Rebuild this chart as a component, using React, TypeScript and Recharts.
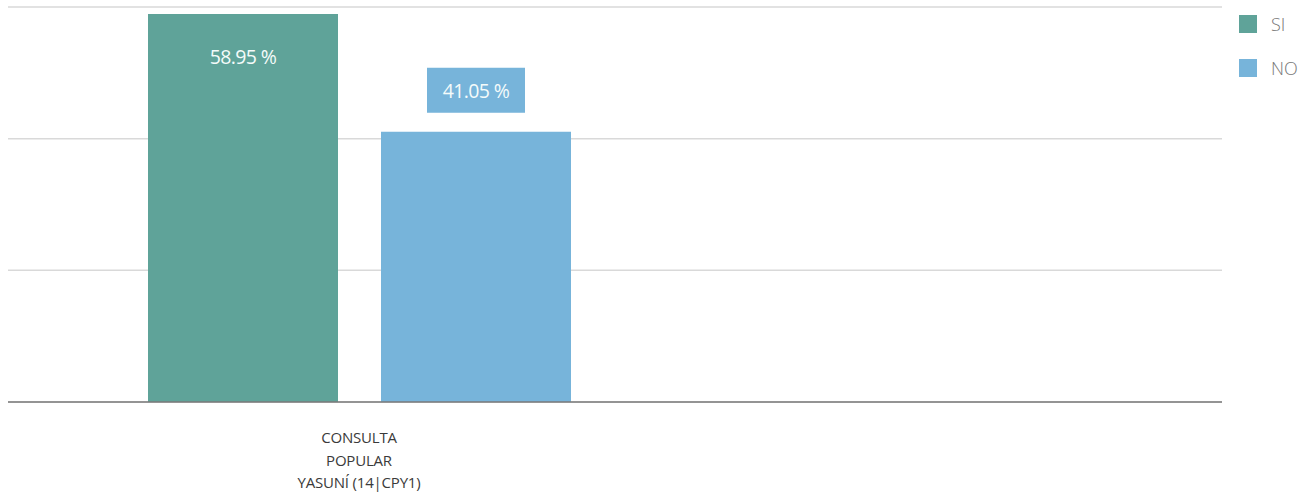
import React from "react";
import {
  BarChart,
  Bar,
  XAxis,
  YAxis,
  CartesianGrid,
  Legend,
  LabelList,
} from "recharts";

const categories = ["CONSULTA POPULAR YASUNÍ (14|CPY1)"];
const categoryLines = [["CONSULTA", "POPULAR", "YASUNÍ (14|CPY1)"]];
const siValues = [58.95];
const noValues = [41.05];
const yTicks = [0, 20, 40, 60];
const seriesNames = ["SI", "NO"];

const SI_COLOR = "#5fa399";
const NO_COLOR = "#77b4da";
const FONT = "'Open Sans', 'Noto Sans', sans-serif";

const data = categories.map((c, i) => ({
  name: c,
  SI: siValues[i],
  NO: noValues[i],
}));

const fmt = (v: number) => `${Number(v).toFixed(2)} %`;

const InsideTopLabel = (props: any) => {
  const { x, y, width, value } = props;
  return (
    <text
      x={x + width / 2}
      y={y + 43}
      textAnchor="middle"
      dominantBaseline="central"
      fill="#f4fbfa"
      fontSize={19.5}
      fontFamily={FONT}
      letterSpacing={-0.6}
    >
      {fmt(value)}
    </text>
  );
};

const BoxAboveLabel = (props: any) => {
  const { x, y, width, value } = props;
  const cx = x + width / 2;
  return (
    <g>
      <rect x={cx - 49} y={y - 64} width={98} height={45} fill={NO_COLOR} />
      <text
        x={cx}
        y={y - 41}
        textAnchor="middle"
        dominantBaseline="central"
        fill="#f4fbfa"
        fontSize={19.5}
        fontFamily={FONT}
        letterSpacing={-0.6}
      >
        {fmt(value)}
      </text>
    </g>
  );
};

const CategoryTick = (props: any) => {
  const { x, y, payload } = props;
  const lines = categoryLines[payload.index] || [String(payload.value)];
  return (
    <g>
      {lines.map((ln: string, i: number) => (
        <text
          key={i}
          x={x}
          y={y + 35 + i * 22.5}
          textAnchor="middle"
          dominantBaseline="central"
          fill="#3a3a3a"
          fontSize={15}
          fontFamily={FONT}
          letterSpacing={-0.2}
        >
          {ln}
        </text>
      ))}
    </g>
  );
};

const LegendContent = (props: any) => {
  const payload = [...(props.payload || [])].sort(
    (a: any, b: any) => seriesNames.indexOf(a.value) - seriesNames.indexOf(b.value)
  );
  return (
    <div style={{ fontFamily: FONT }}>
      {payload.map((p: any, i: number) => (
        <div
          key={i}
          style={{
            display: "flex",
            alignItems: "center",
            height: 44,
          }}
        >
          <span
            style={{
              display: "inline-block",
              width: 18,
              height: 18,
              background: p.color,
              marginRight: 14,
            }}
          />
          <span style={{ color: "#777", fontSize: 18, fontWeight: 300 }}>{p.value}</span>
        </div>
      ))}
    </div>
  );
};

export default function App() {
  return (
    <div style={{ position: "absolute", left: 0, top: 0, background: "#fff" }}>
      <BarChart
        width={1316}
        height={500}
        data={data}
        margin={{ top: 7, right: 94, bottom: 0, left: 8 }}
        barSize={190}
        barGap={43}
      >
        <CartesianGrid
          vertical={false}
          stroke="#d9d9d9"
          strokeWidth={1.5}
        />
        <XAxis
          dataKey="name"
          height={98}
          padding={{ left: 0, right: 512 }}
          tickLine={false}
          tickSize={0}
          tickMargin={0}
          axisLine={{ stroke: "#7a7a7a", strokeWidth: 1.5 }}
          tick={<CategoryTick />}
          interval={0}
        />
        <YAxis hide domain={[0, 60]} ticks={yTicks} width={0} />
        <Legend
          layout="vertical"
          align="center"
          verticalAlign="middle"
          content={<LegendContent />}
          wrapperStyle={{ left: 1239, top: 2, width: 77 }}
        />
        <Bar dataKey="SI" name={seriesNames[0]} fill={SI_COLOR} isAnimationActive={false}>
          <LabelList dataKey="SI" content={<InsideTopLabel />} />
        </Bar>
        <Bar dataKey="NO" name={seriesNames[1]} fill={NO_COLOR} isAnimationActive={false}>
          <LabelList dataKey="NO" content={<BoxAboveLabel />} />
        </Bar>
      </BarChart>
    </div>
  );
}
